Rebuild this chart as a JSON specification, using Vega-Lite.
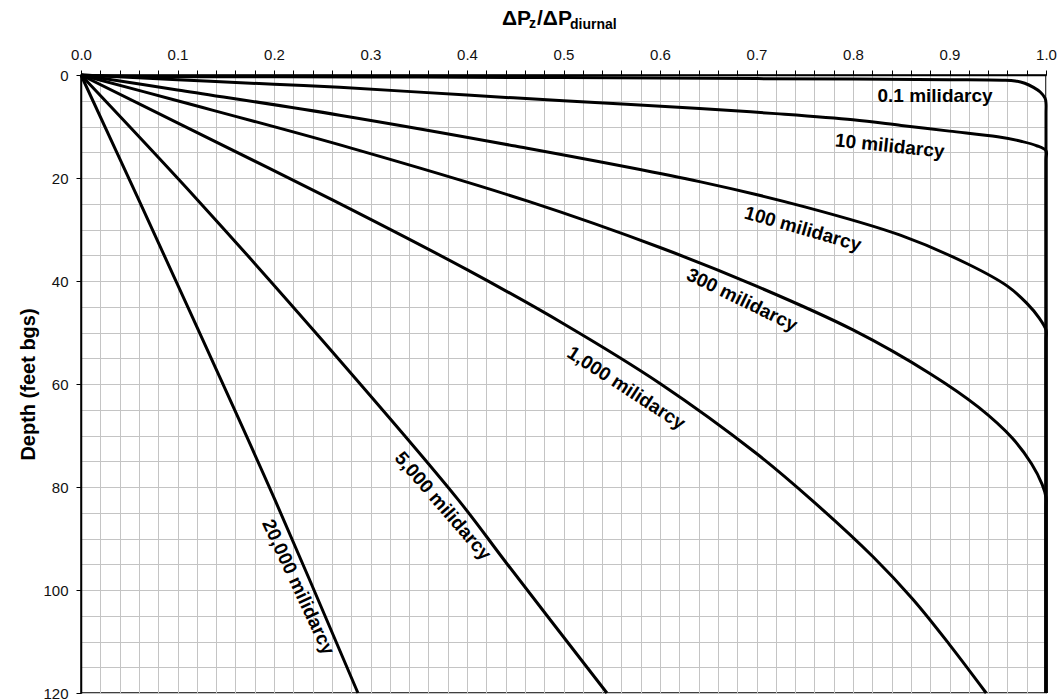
{
  "$schema": "https://vega.github.io/schema/vega-lite/v6.json",
  "width": 965,
  "height": 618,
  "autosize": {"type": "none"},
  "padding": {"left": 81, "top": 75, "right": 14, "bottom": 7},
  "background": "white",
  "config": {
    "view": {"stroke": "black", "strokeWidth": 1.5},
    "font": "Liberation Sans",
    "axis": {
      "labelFont": "Liberation Sans", "labelFontSize": 15, "labelColor": "#111",
      "labelPadding": 8, "labelOverlap": false, "labelFlush": false,
      "tickSize": 5, "tickColor": "black", "tickWidth": 1,
      "domainColor": "black", "domainWidth": 1.5,
      "grid": true, "gridColor": "#c4c4c4", "gridWidth": 1,
      "titleFont": "Liberation Sans", "titleFontSize": 20, "titleFontWeight": "bold", "titleColor": "black",
      "titlePadding": 4
    }
  },
  "datasets": {
    "curves": [
      {"k":"0.1","i":0,"x":0,"d":0},{"k":"0.1","i":1,"x":0.035,"d":0.25},{"k":"0.1","i":2,"x":0.2,"d":0.35},{"k":"0.1","i":3,"x":0.35,"d":0.4},{"k":"0.1","i":4,"x":0.5,"d":0.5},{"k":"0.1","i":5,"x":0.65,"d":0.65},{"k":"0.1","i":6,"x":0.8,"d":0.8},{"k":"0.1","i":7,"x":0.9,"d":0.9},{"k":"0.1","i":8,"x":0.955,"d":1.0},{"k":"0.1","i":9,"x":0.968,"d":1.15},{"k":"0.1","i":10,"x":0.978,"d":1.6},{"k":"0.1","i":11,"x":0.987,"d":2.4},{"k":"0.1","i":12,"x":0.994,"d":3.3},{"k":"0.1","i":13,"x":0.999,"d":4.5},{"k":"0.1","i":14,"x":1.0,"d":5.5},{"k":"0.1","i":15,"x":1.0,"d":7.5},{"k":"0.1","i":16,"x":1.0,"d":120},
      {"k":"10","i":0,"x":0,"d":0},{"k":"10","i":1,"x":0.1,"d":0.9},{"k":"10","i":2,"x":0.2,"d":1.8},{"k":"10","i":3,"x":0.268,"d":2.4},{"k":"10","i":4,"x":0.4,"d":3.9},{"k":"10","i":5,"x":0.5,"d":5.0},{"k":"10","i":6,"x":0.641,"d":6.5},{"k":"10","i":7,"x":0.72,"d":7.5},{"k":"10","i":8,"x":0.8,"d":8.7},{"k":"10","i":9,"x":0.85,"d":9.8},{"k":"10","i":10,"x":0.9,"d":10.9},{"k":"10","i":11,"x":0.95,"d":12.0},{"k":"10","i":12,"x":0.975,"d":12.9},{"k":"10","i":13,"x":0.99,"d":13.7},{"k":"10","i":14,"x":1.0,"d":14.7},{"k":"10","i":15,"x":1.0,"d":16.5},{"k":"10","i":16,"x":1.0,"d":120},
      {"k":"100","i":0,"x":0,"d":0},{"k":"100","i":1,"x":0.1,"d":2.9},{"k":"100","i":2,"x":0.268,"d":7.8},{"k":"100","i":3,"x":0.45,"d":13.8},{"k":"100","i":4,"x":0.641,"d":20.7},{"k":"100","i":5,"x":0.75,"d":25.6},{"k":"100","i":6,"x":0.849,"d":31.1},{"k":"100","i":7,"x":0.92,"d":36.8},{"k":"100","i":8,"x":0.96,"d":41.0},{"k":"100","i":9,"x":0.98,"d":44.3},{"k":"100","i":10,"x":0.993,"d":47.2},{"k":"100","i":11,"x":1.0,"d":49.5},{"k":"100","i":12,"x":1.0,"d":51.5},{"k":"100","i":13,"x":1.0,"d":120},
      {"k":"300","i":0,"x":0,"d":0},{"k":"300","i":1,"x":0.1,"d":5.0},{"k":"300","i":2,"x":0.28,"d":14.2},{"k":"300","i":3,"x":0.463,"d":24.5},{"k":"300","i":4,"x":0.6,"d":33.5},{"k":"300","i":5,"x":0.7,"d":41.0},{"k":"300","i":6,"x":0.8,"d":49.5},{"k":"300","i":7,"x":0.88,"d":58.0},{"k":"300","i":8,"x":0.93,"d":64.5},{"k":"300","i":9,"x":0.965,"d":70.5},{"k":"300","i":10,"x":0.985,"d":75.5},{"k":"300","i":11,"x":0.996,"d":79.5},{"k":"300","i":12,"x":1.0,"d":82.0},{"k":"300","i":13,"x":1.0,"d":84.0},{"k":"300","i":14,"x":1.0,"d":120},
      {"k":"1000","i":0,"x":0,"d":0},{"k":"1000","i":1,"x":0.1,"d":9.3},{"k":"1000","i":2,"x":0.261,"d":24.3},{"k":"1000","i":3,"x":0.4,"d":37.8},{"k":"1000","i":4,"x":0.5,"d":48.3},{"k":"1000","i":5,"x":0.6,"d":59.9},{"k":"1000","i":6,"x":0.7,"d":73.5},{"k":"1000","i":7,"x":0.757,"d":82.5},{"k":"1000","i":8,"x":0.821,"d":93.6},{"k":"1000","i":9,"x":0.862,"d":101.8},{"k":"1000","i":10,"x":0.9,"d":110.6},{"k":"1000","i":11,"x":0.938,"d":120},
      {"k":"5000","i":0,"x":0,"d":0},{"k":"5000","i":1,"x":0.121,"d":24.3},{"k":"5000","i":2,"x":0.25,"d":51.5},{"k":"5000","i":3,"x":0.391,"d":82.5},{"k":"5000","i":4,"x":0.441,"d":94.8},{"k":"5000","i":5,"x":0.545,"d":120},
      {"k":"20000","i":0,"x":0,"d":0},{"k":"20000","i":1,"x":0.06,"d":24.3},{"k":"20000","i":2,"x":0.13,"d":53},{"k":"20000","i":3,"x":0.201,"d":82.5},{"k":"20000","i":4,"x":0.287,"d":120}
    ],
    "labels": [
      {"label":"0.1 milidarcy","x":0.885,"d":4.0},
      {"label":"10 milidarcy","x":0.838,"d":13.8},
      {"label":"100 milidarcy","x":0.748,"d":29.9},
      {"label":"300 milidarcy","x":0.685,"d":43.7},
      {"label":"1,000 milidarcy","x":0.565,"d":60.8},
      {"label":"5,000 milidarcy","x":0.375,"d":83.7},
      {"label":"20,000 milidarcy","x":0.225,"d":99.4}
    ]
  },
  "layer": [
    {
      "data": {"name": "curves"},
      "mark": {"type": "line", "color": "black", "strokeWidth": 3, "strokeJoin": "round", "strokeCap": "butt", "interpolate": "catmull-rom"},
      "encoding": {
        "x": {"field": "x", "type": "quantitative", "scale": {"domain": [0, 1], "nice": false, "zero": false}, "axis": {"orient": "top", "title": null, "values": [0,0.02,0.04,0.06,0.08,0.1,0.12,0.14,0.16,0.18,0.2,0.22,0.24,0.26,0.28,0.3,0.32,0.34,0.36,0.38,0.4,0.42,0.44,0.46,0.48,0.5,0.52,0.54,0.56,0.58,0.6,0.62,0.64,0.66,0.68,0.7,0.72,0.74,0.76,0.78,0.8,0.82,0.84,0.86,0.88,0.9,0.92,0.94,0.96,0.98,1.0], "labelExpr": "abs(datum.value*10 - round(datum.value*10)) < 0.0001 ? format(datum.value, '.1f') : ''"}},
        "y": {"field": "d", "type": "quantitative", "scale": {"domain": [0, 120], "reverse": true, "nice": false}, "axis": {"orient": "left", "title": "Depth (feet bgs)", "values": [0,5,10,15,20,25,30,35,40,45,50,55,60,65,70,75,80,85,90,95,100,105,110,115,120], "labelExpr": "datum.value % 20 === 0 ? datum.label : ''", "tickOpacity": {"condition": {"test": "datum.value % 20 === 0", "value": 1}, "value": 0}}},
        "detail": {"field": "k"},
        "order": {"field": "i", "type": "quantitative"}
      }
    },
    {
      "data": {"values": [{}]},
      "mark": {"type": "text", "text": "ΔP", "font": "Liberation Sans", "fontSize": 21, "fontWeight": "bold", "align": "left", "baseline": "alphabetic", "color": "black", "dx": 0},
      "encoding": {
        "x": {"datum": 0.4363, "type": "quantitative", "scale": {"domain": [0, 1], "nice": false, "zero": false}, "axis": {"orient": "top", "title": null, "values": [0,0.02,0.04,0.06,0.08,0.1,0.12,0.14,0.16,0.18,0.2,0.22,0.24,0.26,0.28,0.3,0.32,0.34,0.36,0.38,0.4,0.42,0.44,0.46,0.48,0.5,0.52,0.54,0.56,0.58,0.6,0.62,0.64,0.66,0.68,0.7,0.72,0.74,0.76,0.78,0.8,0.82,0.84,0.86,0.88,0.9,0.92,0.94,0.96,0.98,1.0], "labelExpr": "abs(datum.value*10 - round(datum.value*10)) < 0.0001 ? format(datum.value, '.1f') : ''"}},
        "y": {"datum": -9.7, "type": "quantitative", "scale": {"domain": [0, 120], "reverse": true, "nice": false}, "axis": {"orient": "left", "title": "Depth (feet bgs)", "values": [0,5,10,15,20,25,30,35,40,45,50,55,60,65,70,75,80,85,90,95,100,105,110,115,120], "labelExpr": "datum.value % 20 === 0 ? datum.label : ''", "tickOpacity": {"condition": {"test": "datum.value % 20 === 0", "value": 1}, "value": 0}}}
      }
    },
    {
      "data": {"values": [{}]},
      "mark": {"type": "text", "text": "z", "font": "Liberation Sans", "fontSize": 14, "fontWeight": "bold", "align": "left", "baseline": "alphabetic", "color": "black", "dx": 27, "dy": 3},
      "encoding": {
        "x": {"datum": 0.4363, "type": "quantitative", "scale": {"domain": [0, 1], "nice": false, "zero": false}, "axis": {"orient": "top", "title": null, "values": [0,0.02,0.04,0.06,0.08,0.1,0.12,0.14,0.16,0.18,0.2,0.22,0.24,0.26,0.28,0.3,0.32,0.34,0.36,0.38,0.4,0.42,0.44,0.46,0.48,0.5,0.52,0.54,0.56,0.58,0.6,0.62,0.64,0.66,0.68,0.7,0.72,0.74,0.76,0.78,0.8,0.82,0.84,0.86,0.88,0.9,0.92,0.94,0.96,0.98,1.0], "labelExpr": "abs(datum.value*10 - round(datum.value*10)) < 0.0001 ? format(datum.value, '.1f') : ''"}},
        "y": {"datum": -9.7, "type": "quantitative", "scale": {"domain": [0, 120], "reverse": true, "nice": false}, "axis": {"orient": "left", "title": "Depth (feet bgs)", "values": [0,5,10,15,20,25,30,35,40,45,50,55,60,65,70,75,80,85,90,95,100,105,110,115,120], "labelExpr": "datum.value % 20 === 0 ? datum.label : ''", "tickOpacity": {"condition": {"test": "datum.value % 20 === 0", "value": 1}, "value": 0}}}
      }
    },
    {
      "data": {"values": [{}]},
      "mark": {"type": "text", "text": "/ΔP", "font": "Liberation Sans", "fontSize": 21, "fontWeight": "bold", "align": "left", "baseline": "alphabetic", "color": "black", "dx": 35},
      "encoding": {
        "x": {"datum": 0.4363, "type": "quantitative", "scale": {"domain": [0, 1], "nice": false, "zero": false}, "axis": {"orient": "top", "title": null, "values": [0,0.02,0.04,0.06,0.08,0.1,0.12,0.14,0.16,0.18,0.2,0.22,0.24,0.26,0.28,0.3,0.32,0.34,0.36,0.38,0.4,0.42,0.44,0.46,0.48,0.5,0.52,0.54,0.56,0.58,0.6,0.62,0.64,0.66,0.68,0.7,0.72,0.74,0.76,0.78,0.8,0.82,0.84,0.86,0.88,0.9,0.92,0.94,0.96,0.98,1.0], "labelExpr": "abs(datum.value*10 - round(datum.value*10)) < 0.0001 ? format(datum.value, '.1f') : ''"}},
        "y": {"datum": -9.7, "type": "quantitative", "scale": {"domain": [0, 120], "reverse": true, "nice": false}, "axis": {"orient": "left", "title": "Depth (feet bgs)", "values": [0,5,10,15,20,25,30,35,40,45,50,55,60,65,70,75,80,85,90,95,100,105,110,115,120], "labelExpr": "datum.value % 20 === 0 ? datum.label : ''", "tickOpacity": {"condition": {"test": "datum.value % 20 === 0", "value": 1}, "value": 0}}}
      }
    },
    {
      "data": {"values": [{}]},
      "mark": {"type": "text", "text": "diurnal", "font": "Liberation Sans", "fontSize": 14, "fontWeight": "bold", "align": "left", "baseline": "alphabetic", "color": "black", "dx": 68, "dy": 4},
      "encoding": {
        "x": {"datum": 0.4363, "type": "quantitative", "scale": {"domain": [0, 1], "nice": false, "zero": false}, "axis": {"orient": "top", "title": null, "values": [0,0.02,0.04,0.06,0.08,0.1,0.12,0.14,0.16,0.18,0.2,0.22,0.24,0.26,0.28,0.3,0.32,0.34,0.36,0.38,0.4,0.42,0.44,0.46,0.48,0.5,0.52,0.54,0.56,0.58,0.6,0.62,0.64,0.66,0.68,0.7,0.72,0.74,0.76,0.78,0.8,0.82,0.84,0.86,0.88,0.9,0.92,0.94,0.96,0.98,1.0], "labelExpr": "abs(datum.value*10 - round(datum.value*10)) < 0.0001 ? format(datum.value, '.1f') : ''"}},
        "y": {"datum": -9.7, "type": "quantitative", "scale": {"domain": [0, 120], "reverse": true, "nice": false}, "axis": {"orient": "left", "title": "Depth (feet bgs)", "values": [0,5,10,15,20,25,30,35,40,45,50,55,60,65,70,75,80,85,90,95,100,105,110,115,120], "labelExpr": "datum.value % 20 === 0 ? datum.label : ''", "tickOpacity": {"condition": {"test": "datum.value % 20 === 0", "value": 1}, "value": 0}}}
      }
    },
    {
      "data": {"name": "labels"},
      "transform": [{"filter": "datum.label === '0.1 milidarcy'"}],
      "mark": {"type": "text", "font": "Liberation Sans", "fontSize": 19, "fontWeight": "bold", "align": "center", "baseline": "middle", "color": "black", "angle": 0},
      "encoding": {
        "x": {"field": "x", "type": "quantitative", "scale": {"domain": [0, 1], "nice": false, "zero": false}, "axis": {"orient": "top", "title": null, "values": [0,0.02,0.04,0.06,0.08,0.1,0.12,0.14,0.16,0.18,0.2,0.22,0.24,0.26,0.28,0.3,0.32,0.34,0.36,0.38,0.4,0.42,0.44,0.46,0.48,0.5,0.52,0.54,0.56,0.58,0.6,0.62,0.64,0.66,0.68,0.7,0.72,0.74,0.76,0.78,0.8,0.82,0.84,0.86,0.88,0.9,0.92,0.94,0.96,0.98,1.0], "labelExpr": "abs(datum.value*10 - round(datum.value*10)) < 0.0001 ? format(datum.value, '.1f') : ''"}},
        "y": {"field": "d", "type": "quantitative", "scale": {"domain": [0, 120], "reverse": true, "nice": false}, "axis": {"orient": "left", "title": "Depth (feet bgs)", "values": [0,5,10,15,20,25,30,35,40,45,50,55,60,65,70,75,80,85,90,95,100,105,110,115,120], "labelExpr": "datum.value % 20 === 0 ? datum.label : ''", "tickOpacity": {"condition": {"test": "datum.value % 20 === 0", "value": 1}, "value": 0}}},
        "text": {"field": "label"}
      }
    },
    {
      "data": {"name": "labels"},
      "transform": [{"filter": "datum.label === '10 milidarcy'"}],
      "mark": {"type": "text", "font": "Liberation Sans", "fontSize": 19, "fontWeight": "bold", "align": "center", "baseline": "middle", "color": "black", "angle": 6},
      "encoding": {
        "x": {"field": "x", "type": "quantitative", "scale": {"domain": [0, 1], "nice": false, "zero": false}, "axis": {"orient": "top", "title": null, "values": [0,0.02,0.04,0.06,0.08,0.1,0.12,0.14,0.16,0.18,0.2,0.22,0.24,0.26,0.28,0.3,0.32,0.34,0.36,0.38,0.4,0.42,0.44,0.46,0.48,0.5,0.52,0.54,0.56,0.58,0.6,0.62,0.64,0.66,0.68,0.7,0.72,0.74,0.76,0.78,0.8,0.82,0.84,0.86,0.88,0.9,0.92,0.94,0.96,0.98,1.0], "labelExpr": "abs(datum.value*10 - round(datum.value*10)) < 0.0001 ? format(datum.value, '.1f') : ''"}},
        "y": {"field": "d", "type": "quantitative", "scale": {"domain": [0, 120], "reverse": true, "nice": false}, "axis": {"orient": "left", "title": "Depth (feet bgs)", "values": [0,5,10,15,20,25,30,35,40,45,50,55,60,65,70,75,80,85,90,95,100,105,110,115,120], "labelExpr": "datum.value % 20 === 0 ? datum.label : ''", "tickOpacity": {"condition": {"test": "datum.value % 20 === 0", "value": 1}, "value": 0}}},
        "text": {"field": "label"}
      }
    },
    {
      "data": {"name": "labels"},
      "transform": [{"filter": "datum.label === '100 milidarcy'"}],
      "mark": {"type": "text", "font": "Liberation Sans", "fontSize": 19, "fontWeight": "bold", "align": "center", "baseline": "middle", "color": "black", "angle": 16},
      "encoding": {
        "x": {"field": "x", "type": "quantitative", "scale": {"domain": [0, 1], "nice": false, "zero": false}, "axis": {"orient": "top", "title": null, "values": [0,0.02,0.04,0.06,0.08,0.1,0.12,0.14,0.16,0.18,0.2,0.22,0.24,0.26,0.28,0.3,0.32,0.34,0.36,0.38,0.4,0.42,0.44,0.46,0.48,0.5,0.52,0.54,0.56,0.58,0.6,0.62,0.64,0.66,0.68,0.7,0.72,0.74,0.76,0.78,0.8,0.82,0.84,0.86,0.88,0.9,0.92,0.94,0.96,0.98,1.0], "labelExpr": "abs(datum.value*10 - round(datum.value*10)) < 0.0001 ? format(datum.value, '.1f') : ''"}},
        "y": {"field": "d", "type": "quantitative", "scale": {"domain": [0, 120], "reverse": true, "nice": false}, "axis": {"orient": "left", "title": "Depth (feet bgs)", "values": [0,5,10,15,20,25,30,35,40,45,50,55,60,65,70,75,80,85,90,95,100,105,110,115,120], "labelExpr": "datum.value % 20 === 0 ? datum.label : ''", "tickOpacity": {"condition": {"test": "datum.value % 20 === 0", "value": 1}, "value": 0}}},
        "text": {"field": "label"}
      }
    },
    {
      "data": {"name": "labels"},
      "transform": [{"filter": "datum.label === '300 milidarcy'"}],
      "mark": {"type": "text", "font": "Liberation Sans", "fontSize": 19, "fontWeight": "bold", "align": "center", "baseline": "middle", "color": "black", "angle": 26},
      "encoding": {
        "x": {"field": "x", "type": "quantitative", "scale": {"domain": [0, 1], "nice": false, "zero": false}, "axis": {"orient": "top", "title": null, "values": [0,0.02,0.04,0.06,0.08,0.1,0.12,0.14,0.16,0.18,0.2,0.22,0.24,0.26,0.28,0.3,0.32,0.34,0.36,0.38,0.4,0.42,0.44,0.46,0.48,0.5,0.52,0.54,0.56,0.58,0.6,0.62,0.64,0.66,0.68,0.7,0.72,0.74,0.76,0.78,0.8,0.82,0.84,0.86,0.88,0.9,0.92,0.94,0.96,0.98,1.0], "labelExpr": "abs(datum.value*10 - round(datum.value*10)) < 0.0001 ? format(datum.value, '.1f') : ''"}},
        "y": {"field": "d", "type": "quantitative", "scale": {"domain": [0, 120], "reverse": true, "nice": false}, "axis": {"orient": "left", "title": "Depth (feet bgs)", "values": [0,5,10,15,20,25,30,35,40,45,50,55,60,65,70,75,80,85,90,95,100,105,110,115,120], "labelExpr": "datum.value % 20 === 0 ? datum.label : ''", "tickOpacity": {"condition": {"test": "datum.value % 20 === 0", "value": 1}, "value": 0}}},
        "text": {"field": "label"}
      }
    },
    {
      "data": {"name": "labels"},
      "transform": [{"filter": "datum.label === '1,000 milidarcy'"}],
      "mark": {"type": "text", "font": "Liberation Sans", "fontSize": 19, "fontWeight": "bold", "align": "center", "baseline": "middle", "color": "black", "angle": 33},
      "encoding": {
        "x": {"field": "x", "type": "quantitative", "scale": {"domain": [0, 1], "nice": false, "zero": false}, "axis": {"orient": "top", "title": null, "values": [0,0.02,0.04,0.06,0.08,0.1,0.12,0.14,0.16,0.18,0.2,0.22,0.24,0.26,0.28,0.3,0.32,0.34,0.36,0.38,0.4,0.42,0.44,0.46,0.48,0.5,0.52,0.54,0.56,0.58,0.6,0.62,0.64,0.66,0.68,0.7,0.72,0.74,0.76,0.78,0.8,0.82,0.84,0.86,0.88,0.9,0.92,0.94,0.96,0.98,1.0], "labelExpr": "abs(datum.value*10 - round(datum.value*10)) < 0.0001 ? format(datum.value, '.1f') : ''"}},
        "y": {"field": "d", "type": "quantitative", "scale": {"domain": [0, 120], "reverse": true, "nice": false}, "axis": {"orient": "left", "title": "Depth (feet bgs)", "values": [0,5,10,15,20,25,30,35,40,45,50,55,60,65,70,75,80,85,90,95,100,105,110,115,120], "labelExpr": "datum.value % 20 === 0 ? datum.label : ''", "tickOpacity": {"condition": {"test": "datum.value % 20 === 0", "value": 1}, "value": 0}}},
        "text": {"field": "label"}
      }
    },
    {
      "data": {"name": "labels"},
      "transform": [{"filter": "datum.label === '5,000 milidarcy'"}],
      "mark": {"type": "text", "font": "Liberation Sans", "fontSize": 19, "fontWeight": "bold", "align": "center", "baseline": "middle", "color": "black", "angle": 49},
      "encoding": {
        "x": {"field": "x", "type": "quantitative", "scale": {"domain": [0, 1], "nice": false, "zero": false}, "axis": {"orient": "top", "title": null, "values": [0,0.02,0.04,0.06,0.08,0.1,0.12,0.14,0.16,0.18,0.2,0.22,0.24,0.26,0.28,0.3,0.32,0.34,0.36,0.38,0.4,0.42,0.44,0.46,0.48,0.5,0.52,0.54,0.56,0.58,0.6,0.62,0.64,0.66,0.68,0.7,0.72,0.74,0.76,0.78,0.8,0.82,0.84,0.86,0.88,0.9,0.92,0.94,0.96,0.98,1.0], "labelExpr": "abs(datum.value*10 - round(datum.value*10)) < 0.0001 ? format(datum.value, '.1f') : ''"}},
        "y": {"field": "d", "type": "quantitative", "scale": {"domain": [0, 120], "reverse": true, "nice": false}, "axis": {"orient": "left", "title": "Depth (feet bgs)", "values": [0,5,10,15,20,25,30,35,40,45,50,55,60,65,70,75,80,85,90,95,100,105,110,115,120], "labelExpr": "datum.value % 20 === 0 ? datum.label : ''", "tickOpacity": {"condition": {"test": "datum.value % 20 === 0", "value": 1}, "value": 0}}},
        "text": {"field": "label"}
      }
    },
    {
      "data": {"name": "labels"},
      "transform": [{"filter": "datum.label === '20,000 milidarcy'"}],
      "mark": {"type": "text", "font": "Liberation Sans", "fontSize": 19, "fontWeight": "bold", "align": "center", "baseline": "middle", "color": "black", "angle": 65},
      "encoding": {
        "x": {"field": "x", "type": "quantitative", "scale": {"domain": [0, 1], "nice": false, "zero": false}, "axis": {"orient": "top", "title": null, "values": [0,0.02,0.04,0.06,0.08,0.1,0.12,0.14,0.16,0.18,0.2,0.22,0.24,0.26,0.28,0.3,0.32,0.34,0.36,0.38,0.4,0.42,0.44,0.46,0.48,0.5,0.52,0.54,0.56,0.58,0.6,0.62,0.64,0.66,0.68,0.7,0.72,0.74,0.76,0.78,0.8,0.82,0.84,0.86,0.88,0.9,0.92,0.94,0.96,0.98,1.0], "labelExpr": "abs(datum.value*10 - round(datum.value*10)) < 0.0001 ? format(datum.value, '.1f') : ''"}},
        "y": {"field": "d", "type": "quantitative", "scale": {"domain": [0, 120], "reverse": true, "nice": false}, "axis": {"orient": "left", "title": "Depth (feet bgs)", "values": [0,5,10,15,20,25,30,35,40,45,50,55,60,65,70,75,80,85,90,95,100,105,110,115,120], "labelExpr": "datum.value % 20 === 0 ? datum.label : ''", "tickOpacity": {"condition": {"test": "datum.value % 20 === 0", "value": 1}, "value": 0}}},
        "text": {"field": "label"}
      }
    }
  ]
}
